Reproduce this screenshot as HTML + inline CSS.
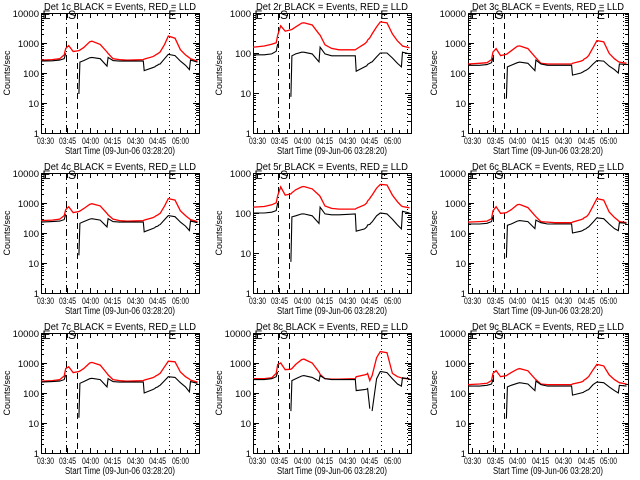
<!DOCTYPE html>
<html><head><meta charset="utf-8"><style>
html,body{margin:0;padding:0;background:#fff;}
svg{display:block;}
text{font-family:"Liberation Sans",sans-serif;fill:#000;}
</style></head><body>
<svg id="chart" width="640" height="480" viewBox="0 0 640 480" xmlns="http://www.w3.org/2000/svg"></svg>
<script>
// time grid, minutes after 03:30
const times = [-2.5,5,10,13,14,16,19,22.8,23.5,26,30,31.5,37,41.6,42.3,45.6,50,55,65.8,66.4,72,73.5,74,75.5,76,77,80,82.5,87,90.6,94,96.6,97.3,102];
const panelTitles = ["Det 1c BLACK = Events, RED = LLD","Det 2r BLACK = Events, RED = LLD","Det 3c BLACK = Events, RED = LLD","Det 4c BLACK = Events, RED = LLD","Det 5r BLACK = Events, RED = LLD","Det 6c BLACK = Events, RED = LLD","Det 7c BLACK = Events, RED = LLD","Det 8c BLACK = Events, RED = LLD","Det 9c BLACK = Events, RED = LLD"];
const red1 = [270,280,300,400,650,820,520,560,580,700,1100,1150,900,500,450,300,280,270,280,290,350,380,400,440,460,500,900,1700,1450,600,400,320,300,250];
const black1 = [250,255,270,300,450,null,null,20,230,260,320,330,300,170,330,260,250,250,250,120,150,160,170,185,195,200,300,420,380,250,180,130,270,230];
const red2 = [140,150,165,180,280,480,350,380,390,450,560,570,500,300,280,160,130,120,120,125,170,190,210,240,260,300,450,600,570,300,200,160,150,135];
const black2 = [90,90,95,110,170,null,null,8,85,95,105,105,95,60,140,95,85,85,85,35,45,48,52,56,58,60,80,100,100,75,55,45,105,95];
const red3 = [200,210,220,280,500,650,380,420,440,550,780,800,650,350,320,210,200,200,200,210,250,270,290,320,340,380,700,1200,1100,450,300,240,230,210];
const black3 = [180,180,190,220,320,null,null,14,160,180,220,230,210,120,270,200,180,180,180,85,100,110,115,125,130,140,200,260,250,170,130,100,200,190];
const red4 = [260,270,290,380,600,750,480,520,540,650,900,950,800,450,400,290,260,250,260,270,320,350,370,400,420,450,800,1400,1250,550,380,300,280,240];
const black4 = [230,240,250,280,420,null,null,18,210,240,290,300,270,160,300,240,230,230,230,110,140,150,160,170,180,190,280,380,350,230,170,120,250,220];
const red5 = [140,145,160,180,270,450,280,300,320,380,450,460,400,280,260,150,130,125,125,130,160,180,200,230,250,280,420,520,500,280,190,150,145,135];
const black5 = [100,100,105,115,180,null,null,6,80,85,95,95,85,55,140,95,90,90,95,35,40,45,50,52,55,60,85,100,95,70,50,40,110,100];
const red6 = [230,240,250,300,550,750,450,480,500,600,880,900,700,380,350,240,230,220,220,230,280,300,320,350,370,420,800,1400,1250,500,330,260,240,220];
const black6 = [200,200,210,240,350,null,null,15,180,200,250,260,240,140,270,220,200,200,200,100,115,125,130,140,150,160,230,320,300,200,140,120,220,210];
const red7 = [250,260,280,370,650,750,480,520,540,650,1000,1050,850,450,400,280,260,250,260,270,320,350,370,400,420,450,750,1150,1100,500,350,290,270,230];
const black7 = [230,240,250,280,400,null,null,15,210,240,300,310,280,160,300,240,230,230,230,100,130,140,150,160,170,180,260,350,330,220,160,110,240,210];
const red8 = [300,300,320,450,900,1000,600,620,650,900,1300,1350,1000,500,420,300,290,290,300,350,400,420,450,260,300,380,1500,2400,2200,450,350,320,310,300];
const black8 = [280,280,300,350,500,null,null,25,260,300,370,380,330,250,380,300,280,280,280,120,130,135,140,30,null,25,300,520,480,300,200,170,320,290];
const red9 = [190,200,210,260,450,560,350,380,400,480,620,650,550,300,280,200,190,190,190,200,230,250,270,300,320,350,600,900,800,400,280,230,220,200];
const black9 = [170,170,180,200,280,null,null,14,160,180,210,220,200,120,250,190,170,170,170,85,100,105,110,120,125,130,190,230,220,160,120,100,180,170];
const redSeries = [red1,red2,red3,red4,red5,red6,red7,red8,red9];
const blackSeries = [black1,black2,black3,black4,black5,black6,black7,black8,black9];
const yDecades = [4,3,4,4,3,4,4,4,4];
const xTickTimes = [0,15,30,45,60,75,90];
const xTickLabels = ["03:30","03:45","04:00","04:15","04:30","04:45","05:00"];
const yTickLabels = ["1","10","100","1000","10000"];
const eventTimes = [14.2,21.5,82.8,100];
const eventLetters = ["E","S","E"];
const eventLetterTimes = [-1.5,15.5,82.5];

const NS="http://www.w3.org/2000/svg";
const svg=document.getElementById('chart');
function mk(tag,attrs,parent){const e=document.createElementNS(NS,tag);for(const k in attrs)e.setAttribute(k,attrs[k]);(parent||svg).appendChild(e);return e;}
const colL=[41,253,468], colW=[158,158,160], rowT=[13,173,333], H=120;
const T0=-2.5, T1=103;

for(let p=0;p<9;p++){
  const c=p%3, r=Math.floor(p/3);
  const L=colL[c], W=colW[c], Tp=rowT[r], B=Tp+H;
  const dec=yDecades[p];
  const xs=t=>L+(t-T0)/(T1-T0)*W;
  const ys=v=>B-Math.log10(v)/dec*H;
  const g=mk('g',{});
  
  
  const cp=mk('clipPath',{id:'cp'+p},g);
  mk('rect',{x:L,y:Tp-4,width:W,height:H+4},cp);
  const tt=mk('text',{x:L+W/2,y:Tp-3,'font-size':10.5,'text-anchor':'middle',textLength:152,lengthAdjust:'spacingAndGlyphs'},g);
  tt.textContent=panelTitles[p];
  
  
  const box=mk('rect',{x:L+0.5,y:Tp+0.5,width:W,height:H,fill:'none',stroke:'#000','stroke-width':1},g);
  
  
  for(let d=0;d<=dec;d++){
    const y=Math.round(ys(Math.pow(10,d)))+0.5;
    mk('line',{x1:L,x2:L+6,y1:y,y2:y,stroke:'#000'},g);
    mk('line',{x1:L+W-6,x2:L+W,y1:y,y2:y,stroke:'#000'},g);
    const lb=mk('text',{x:L-2,y:y+3.5,'font-size':9.5,'text-anchor':'end'},g);
    lb.textContent=yTickLabels[d];
    
    
    if(d<dec){for(let m=2;m<=9;m++){const ym=Math.round(ys(m*Math.pow(10,d)))+0.5;
      mk('line',{x1:L,x2:L+3,y1:ym,y2:ym,stroke:'#000'},g);
      mk('line',{x1:L+W-3,x2:L+W,y1:ym,y2:ym,stroke:'#000'},g);}}
  }
  for(let i=0;i<xTickTimes.length;i++){
    const x=Math.round(xs(xTickTimes[i]))+0.5;
    mk('line',{x1:x,x2:x,y1:B,y2:B-5,stroke:'#000'},g);
    mk('line',{x1:x,x2:x,y1:Tp,y2:Tp+5,stroke:'#000'},g);
    const lb=mk('text',{x:x,y:B+11,'font-size':9,'text-anchor':'middle',textLength:17,lengthAdjust:'spacingAndGlyphs'},g);
    lb.textContent=xTickLabels[i];
    
    
  }
  for(let t=5;t<=100;t+=5){ if(t%15===0) continue; const x=Math.round(xs(t))+0.5;
    mk('line',{x1:x,x2:x,y1:B,y2:B-3,stroke:'#000'},g); mk('line',{x1:x,x2:x,y1:Tp,y2:Tp+3,stroke:'#000'},g);}
  const xt=mk('text',{x:L+W/2,y:B+21,'font-size':10,'text-anchor':'middle',textLength:110,lengthAdjust:'spacingAndGlyphs'},g);
  xt.textContent='Start Time (09-Jun-06 03:28:20)';
  
  
  const yt=mk('text',{x:0,y:0,'font-size':9,'text-anchor':'middle',transform:`translate(${L-31},${Tp+H/2}) rotate(-90)`},g);
  yt.textContent='Counts/sec';
  
  
  const dashes=['7,3,1,3','6,4','1,3','1,3'];
  for(let i=0;i<eventTimes.length;i++){
    const x=Math.round(xs(eventTimes[i]))+0.5;
    const ln=mk('line',{x1:x,x2:x,y1:Tp,y2:B,stroke:'#000','stroke-dasharray':dashes[i]},g);
    
    
  }
  const cg=mk('g',{'clip-path':`url(#cp${p})`},g);
  for(let i=0;i<eventLetters.length;i++){
    const lt=mk('text',{x:xs(eventLetterTimes[i]),y:Tp+6,'font-size':12},cg);
    lt.textContent=eventLetters[i];
    
    
  }
  function path(vals){let d='',pen=false;
    for(let i=0;i<times.length;i++){const v=vals[i];
      if(v==null){pen=false;continue;}
      d+=(pen?'L':'M')+xs(times[i]).toFixed(1)+','+ys(v).toFixed(1); pen=true;}
    return d;}
  const rp=mk('path',{d:path(redSeries[p]),fill:'none',stroke:'#ff0000','stroke-width':1.3},cg);
  
  
  const bp=mk('path',{d:path(blackSeries[p]),fill:'none',stroke:'#000','stroke-width':1.1},cg);
  
  
}
</script>
</body></html>
